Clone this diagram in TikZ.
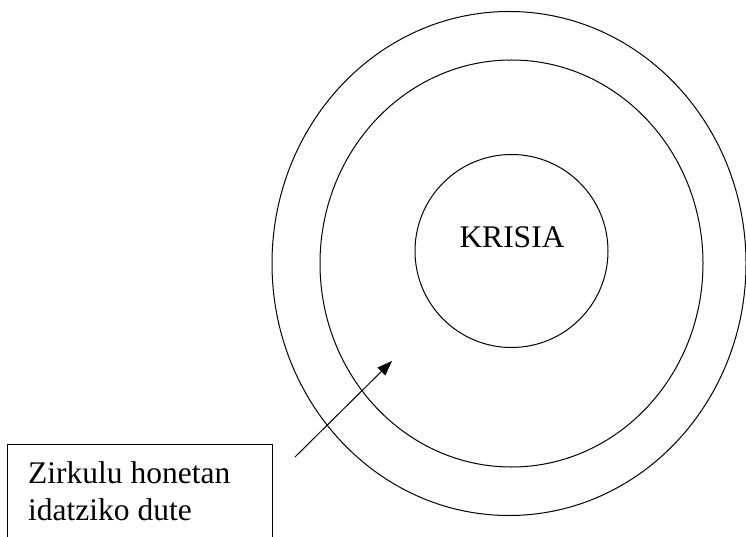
\documentclass[tikz,border=0pt]{standalone}
\usepackage{fontspec}
\setmainfont{Liberation Serif}
\usetikzlibrary{shapes.geometric,arrows.meta}
\begin{document}
\begin{tikzpicture}[x=1bp,y=-1bp,
  ring/.style={draw=black, line width=1bp, ellipse, inner sep=0pt},
  lbl/.style={inner sep=0pt, font=\fontsize{31.5bp}{37bp}\selectfont},
  boxstyle/.style={draw=black, line width=1bp, rectangle, inner sep=0pt, anchor=north west},
  arr/.style={line width=1bp, -{Triangle[length=15bp,width=11bp]}}]
\useasboundingbox (0,0) rectangle (746,537);
\fill[white] (0,0) rectangle (746,537);
\node[ring, minimum width=474bp, minimum height=504bp] (outer) at (509,263.5) {};
\node[ring, minimum width=383bp, minimum height=407bp] (middle) at (511.5,263.5) {};
\node[draw=black, line width=1bp, circle, inner sep=0pt, minimum size=193bp] (inner) at (511.5,251) {};
\node[lbl, anchor=base] (krisia) at (512,248) {KRISIA};
\node[boxstyle, minimum width=265bp, minimum height=130bp] (box) at (7,444) {};
\node[lbl, anchor=base west] (l1) at (28,483) {Zirkulu honetan};
\node[lbl, anchor=base west] (l2) at (28,520) {idatziko dute};
\coordinate (tail) at (295,457);
\coordinate (tip) at (392,361);
\draw[arr] (tail) -- (tip);
\end{tikzpicture}
\end{document}
